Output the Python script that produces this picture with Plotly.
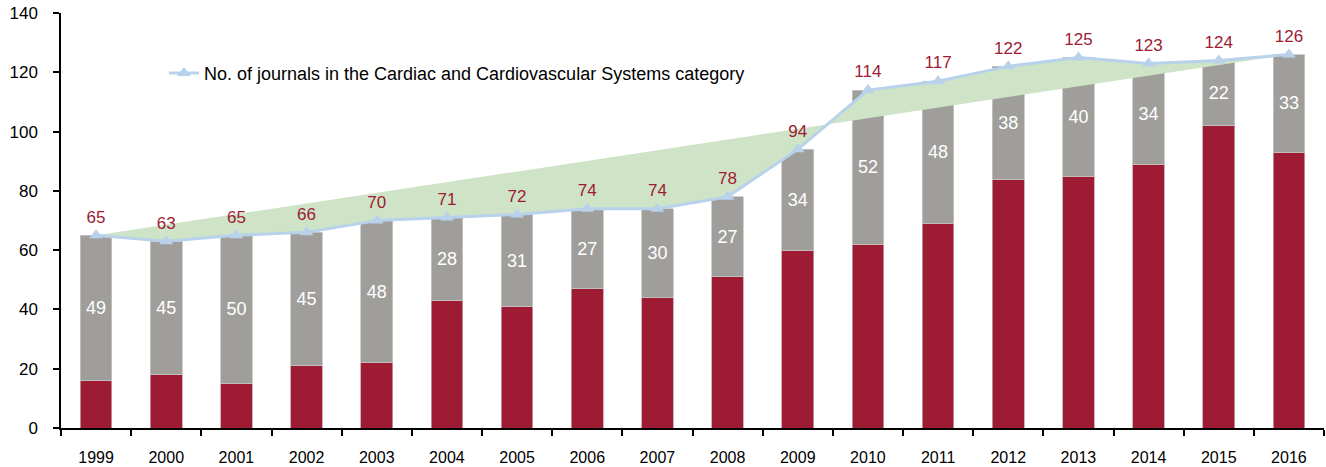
import plotly.graph_objects as go

years = [str(y) for y in range(1999, 2017)]
totals = [65, 63, 65, 66, 70, 71, 72, 74, 74, 78, 94, 114, 117, 122, 125, 123, 124, 126]
grey_vals = [49, 45, 50, 45, 48, 28, 31, 27, 30, 27, 34, 52, 48, 38, 40, 34, 22, 33]
red_vals = [16, 18, 15, 21, 22, 43, 41, 47, 44, 51, 60, 62, 69, 84, 85, 89, 102, 93]

FONT = "Liberation Sans, Arial, sans-serif"
RED = "#9D1B33"
GREY = "#A09E9B"
BLUE = "#B8D2EC"
GREEN = "#CFE4C7"

fig = go.Figure()
fig.add_trace(go.Bar(x=years, y=red_vals, marker=dict(color=RED, line=dict(color="#C8A0A8", width=0.8)),
                     width=0.45, showlegend=False, hoverinfo="skip"))
fig.add_trace(go.Bar(x=years, y=grey_vals, marker=dict(color=GREY, line=dict(color="#C8C6C4", width=0.8)),
                     width=0.45, showlegend=False, text=[str(v) for v in grey_vals],
                     textposition="inside", insidetextanchor="middle", textangle=0,
                     textfont=dict(color="white", size=18, family=FONT), cliponaxis=False))
# green area between data line and chord from first to last point
fig.add_trace(go.Scatter(x=years, y=totals, mode="lines", fill="toself", fillcolor=GREEN,
                         line=dict(width=0, color=GREEN), showlegend=False, hoverinfo="skip"))
fig.add_trace(go.Scatter(x=years, y=totals, mode="lines+markers",
                         line=dict(color=BLUE, width=3),
                         marker=dict(symbol="triangle-up", size=12, color=BLUE),
                         name="No. of journals in the Cardiac and Cardiovascular Systems category"))
# total labels above the points (invisible markers push the text upward)
fig.add_trace(go.Scatter(x=years, y=totals, mode="markers+text", text=[str(v) for v in totals],
                         marker=dict(size=12, opacity=0), textposition="top center",
                         textfont=dict(color=RED, size=17, family=FONT),
                         showlegend=False, cliponaxis=False, hoverinfo="skip"))

fig.update_layout(
    width=1326, height=467,
    margin=dict(l=61, r=2, t=13, b=39, autoexpand=False),
    barmode="stack",
    plot_bgcolor="white", paper_bgcolor="white",
    font=dict(family=FONT, color="black", size=16),
    legend=dict(x=0.0815, y=0.855, xanchor="left", yanchor="middle", bgcolor="rgba(0,0,0,0)",
                font=dict(size=18, family=FONT)),
    xaxis=dict(type="category", range=[-0.5, 17.5], showline=True, linecolor="black", linewidth=1.5,
               automargin=False, ticks="outside", tickson="boundaries", ticklen=6, tickcolor="black",
               tickwidth=1.5, tickangle=0, tickfont=dict(size=16), showgrid=False, ticklabelstandoff=14),
    yaxis=dict(range=[0, 140], dtick=20, showline=True, linecolor="black", linewidth=1.5, automargin=False,
               ticks="outside", ticklen=6, tickcolor="black", tickwidth=1.5,
               tickfont=dict(size=17), showgrid=False, zeroline=False, ticklabelstandoff=12),
)
fig.write_html("out.html", config={"displayModeBar": False},
               post_script="document.body.style.margin='0';document.body.style.overflow='hidden';")
